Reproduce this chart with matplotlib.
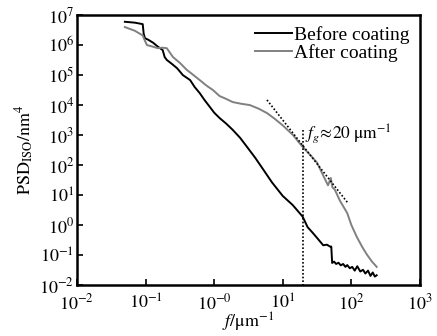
import matplotlib
matplotlib.use('Agg')
import matplotlib.pyplot as plt

plt.rcParams['font.family'] = ['Liberation Serif', 'DejaVu Serif']
plt.rcParams['mathtext.fontset'] = 'stix'

# PSD before coating (f in 1/um, PSD in nm^4)
f_before = [0.050, 0.070, 0.091, 0.094, 0.098, 0.11, 0.129, 0.15, 0.178, 0.19, 0.204,
            0.24, 0.288, 0.35, 0.447, 0.52, 0.617, 0.72, 0.871, 1.0, 1.20, 1.5,
            1.86, 2.4, 3.02, 4.0, 5.01, 7.0, 10.0, 14.0, 19.5, 23.0, 27.5, 33.0,
            38.9, 44.0, 49.0, 51.0, 52.5, 56.0, 60.0, 65.0, 70.0, 76.0, 82.0, 87.0,
            95.0, 103.0, 112.0, 122.0, 135.0, 148.0, 160.0, 175.0, 190.0, 205.0, 220.0, 234.0]
psd_before = [6.0e6, 5.6e6, 5.0e6, 2.4e6, 1.7e6, 1.5e6, 1.2e6, 9.0e5, 6.8e5, 4.0e5, 3.2e5,
              2.4e5, 1.7e5, 1.0e5, 6.8e4, 4.0e4, 2.5e4, 1.5e4, 8.5e3, 5.6e3, 3.7e3, 2.4e3,
              1.5e3, 8.0e2, 4.0e2, 1.7e2, 8.0e1, 2.6e1, 9.3, 4.6, 1.9, 0.85, 0.54, 0.33,
              0.21, 0.22, 0.19, 0.19, 0.054, 0.060, 0.050, 0.055, 0.045, 0.050, 0.040, 0.046,
              0.036, 0.040, 0.030, 0.042, 0.028, 0.032, 0.024, 0.030, 0.020, 0.026, 0.019, 0.021]

# PSD after coating
f_after = [0.050, 0.070, 0.091, 0.098, 0.105, 0.125, 0.151, 0.175, 0.204, 0.251, 0.32,
           0.398, 0.50, 0.617, 0.78, 0.955, 1.20, 1.50, 1.86, 2.5, 3.31, 4.5, 5.89,
           7.5, 10.0, 14.1, 19.5, 25.0, 31.6, 38.0, 45.7, 48.0, 50.1, 53.0, 57.5,
           68.0, 87.0, 100.0, 120.0, 145.0, 170.0, 200.0, 234.0]
psd_after = [4.0e6, 3.0e6, 2.1e6, 1.4e6, 1.0e6, 9.0e5, 7.9e5, 8.2e5, 7.9e5, 4.0e5, 2.5e5,
             1.5e5, 1.0e5, 6.8e4, 4.4e4, 3.2e4, 2.0e4, 1.6e4, 1.26e4, 1.1e4, 1.0e4, 7.5e3, 5.4e3,
             3.6e3, 2.1e3, 1.0e3, 4.0e2, 2.2e2, 1.2e2, 5.0e1, 2.1e1, 2.8e1, 3.7e1, 1.8e1, 1.5e1,
             6.5, 2.5, 1.0, 0.40, 0.18, 0.10, 0.06, 0.04]

# power-law fit line and the crossover frequency
fit_f = [5.89, 89.0]
fit_psd = [1.48e4, 5.4]
fg = 20
fg_psd = [1.5e3, 1.0e-2]

fig = plt.figure(figsize=(4.37, 3.36), dpi=100)
ax = fig.add_axes([0.176, 0.152, 0.785, 0.803])

ax.loglog(f_before, psd_before, color='black', lw=1.4, label='Before coating')
ax.loglog(f_after, psd_after, color='#808080', lw=1.4, label='After coating')
ax.plot(fit_f, fit_psd, color='black', lw=1.2, ls=(0, (1, 1.2)))
ax.plot([fg, fg], fg_psd, color='black', lw=1.2, ls=(0, (1, 1.2)))
ax.text(21, 1.1e3, r'$f_g\!\approx\!20\ \mathrm{\mu m^{-1}}$', fontsize=12.5, va='center', ha='left')

ax.set_xlim(1e-2, 1e3)
ax.set_ylim(1e-2, 1e7)
ax.set_xticks([1e-2, 1e-1, 1, 10, 100, 1000])
ax.set_xticklabels([r'$10^{-2}$', r'$10^{-1}$', r'$10^{-0}$', r'$10^{1}$', r'$10^{2}$', r'$10^{3}$'])
ax.set_yticks([10.0 ** k for k in range(-2, 8)])
ax.set_yticklabels([r'$10^{%d}$' % k for k in range(-2, 8)])
ax.minorticks_off()
ax.tick_params(direction='in', length=4, width=1.2, labelsize=13)
ax.tick_params(axis='x', pad=6)
ax.tick_params(axis='y', pad=2)
for s in ax.spines.values():
    s.set_linewidth(1.8)

ax.set_xlabel(r'$f/\mathrm{\mu m^{-1}}$', fontsize=13, labelpad=-2)
ax.set_ylabel(r'$\mathrm{PSD_{ISO}/nm^{4}}$', fontsize=13, labelpad=2)

leg = ax.legend(loc='upper right', frameon=False, fontsize=14, handlelength=1.9,
                handletextpad=0.1, labelspacing=0.0, borderaxespad=0.15)

fig.savefig('out.png', dpi=100)
